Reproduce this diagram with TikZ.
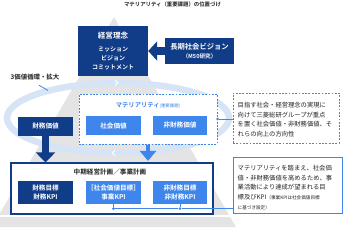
\documentclass[tikz,border=0pt]{standalone}
\usepackage{fontspec}
\setmainfont{Noto Sans CJK JP}[BoldFont={Noto Sans CJK JP Bold}]
\usetikzlibrary{arrows.meta,positioning,calc}
\definecolor{navy}{HTML}{103C88}
\definecolor{mblue}{HTML}{3F86EC}
\definecolor{ringc}{HTML}{D6E4F6}
\definecolor{pgrey}{HTML}{E4E4E4}
\definecolor{txt}{HTML}{222222}
\tikzset{
  navybox/.style={fill=navy,draw=none,text=white,inner sep=0pt,align=center,font=\bfseries\fontsize{6.6}{8.4}\selectfont},
  bluebox/.style={fill=mblue,draw=none,text=white,inner sep=0pt,align=center,font=\bfseries\fontsize{6.6}{8.4}\selectfont},
  dotbox/.style={draw=mblue,line width=1pt,dash pattern=on 1.8pt off 1.5pt,fill=white,inner sep=0pt},
  sidetext/.style={text=txt,align=left,inner sep=0pt,font=\fontsize{6.3}{9.7}\selectfont},
  conn/.style={draw=mblue,line width=0.8pt},
  jdot/.style={circle,fill=mblue,inner sep=0pt,minimum size=3pt},
}
\newcommand{\smtx}[1]{{\fontsize{4.6}{9.7}\selectfont #1}}
\begin{document}
\begin{tikzpicture}[x=1pt,y=-1pt]
\useasboundingbox (0,0) rectangle (344,227);
% pyramid
\fill[pgrey] (114,17) -- (236,227) -- (-8,227) -- cycle;
\draw[white,line width=2pt] (0,215.5) -- (240,215.5);
% cycle ring
\draw[ringc,line width=6.5pt] (118,118) ellipse [x radius=111,y radius=35];
\draw[white,line width=0.9pt] (115,80.5) -- (118,83) -- (115,85.5);
\draw[white,line width=0.9pt] (115,150.5) -- (112,153) -- (115,155.5);
% title
\node[text=txt,font=\bfseries\fontsize{5.4}{6}\selectfont,inner sep=0pt] (title) at (172.5,4.5) {マテリアリティ（重要課題）の位置づけ};
% top boxes
\node[navybox,minimum width=70,minimum height=50] (kei) at (113,51) {};
\node[text=white,align=center,inner sep=0pt,font=\bfseries\fontsize{6}{9}\selectfont] (keit) at (113,51) {{\fontsize{7.6}{9}\selectfont 経営理念}\\[4pt]ミッション\\ビジョン\\コミットメント};
\node[navybox,minimum width=69,minimum height=26,font=\bfseries\fontsize{7.3}{9}\selectfont] (vision) at (199.5,51) {長期社会ビジョン\\[-0.5pt]{\fontsize{5.6}{7}\selectfont （M50研究）}};
\draw[navy,line width=8pt,-{Triangle[width=19pt,length=9pt]}] (vision.west) -- (kei.east);
% 3 value cycle label
\node[text=txt,font=\bfseries\fontsize{6.4}{7}\selectfont,inner sep=0pt] (cyc) at (35,77) {3価値循環・拡大};
\coordinate (cycend) at (48,90.5);
\draw[mblue,line width=0.8pt] ($(cyc.south)+(4,5)$) -- (cycend);
% materiality
\node[dotbox,minimum width=138,minimum height=50] (mat) at (148,119) {};
\node[text=mblue,inner sep=0pt] (matl) at (148,105) {{\bfseries\fontsize{6.3}{7}\selectfont マテリアリティ}{\fontsize{4.4}{5}\selectfont (重要課題)}};
\node[bluebox,minimum width=55,minimum height=19] (shakai) at (113.5,125.5) {社会価値};
\node[bluebox,minimum width=54,minimum height=19] (hizai) at (180,125.5) {非財務価値};
\node[navybox,minimum width=55,minimum height=19] (zaimu) at (45.5,126) {財務価値};
% plan box
\node[draw=navy,line width=1.2pt,fill=white,minimum width=202,minimum height=51,inner sep=0pt] (plan) at (112,188.5) {};
\node[text=txt,font=\bfseries\fontsize{6.6}{7}\selectfont,inner sep=0pt] (planl) at (110,172) {中期経営計画／事業計画};
\node[navybox,minimum width=55,minimum height=23] (k1) at (45.5,192.5) {財務目標\\財務KPI};
\node[bluebox,minimum width=55,minimum height=23] (k2) at (113.5,192.5) {［社会価値目標］\\事業KPI};
\node[bluebox,minimum width=54,minimum height=23] (k3) at (180,192.5) {非財務目標\\非財務KPI};
% down arrows
\draw[navy,line width=7pt,-{Triangle[width=19pt,length=10pt]}] (zaimu.south) -- (zaimu.south |- plan.north);
\draw[mblue,line width=4pt,-{Triangle[width=16pt,length=10pt]}] (mat.south) -- ($(mat.south |- plan.north)+(0,-1.5)$);
% right boxes
\node[dotbox,minimum width=106,minimum height=50] (r1) at (286,118) {};
\node[sidetext,anchor=west] (r1t) at (237.5,119.5) {目指す社会・経営理念の実現に\\向けて三菱総研グループが重点\\を置く社会価値・非財務価値、そ\\れらの向上の方向性};
\node[draw=mblue,line width=1pt,fill=white,minimum width=109,minimum height=56,inner sep=0pt] (r2) at (287.5,185) {};
\node[sidetext,anchor=west] (r2t) at (237.5,187.5) {マテリアリティを踏まえ、社会価\\値・非財務価値を高めるため、事\\業活動により達成が望まれる目\\標及びKPI\smtx{（事業KPIは社会価値目標}\\\smtx{に基づき設定）}};
% connectors
\node[jdot] (d1) at (mat.east) {};
\draw[conn] (d1) -- (d1 -| r1.west);
\coordinate (j2) at ($(k2.south)+(0,4.5)$);
\node[jdot] (d2) at (j2) {};
\node[jdot] (d3) at (j2 -| k3.south) {};
\draw[conn] (k2.south) -- (d2) -- (d3) -- (d3 -| r2.west);
\draw[conn] (k3.south) -- (d3);
\end{tikzpicture}
\end{document}
